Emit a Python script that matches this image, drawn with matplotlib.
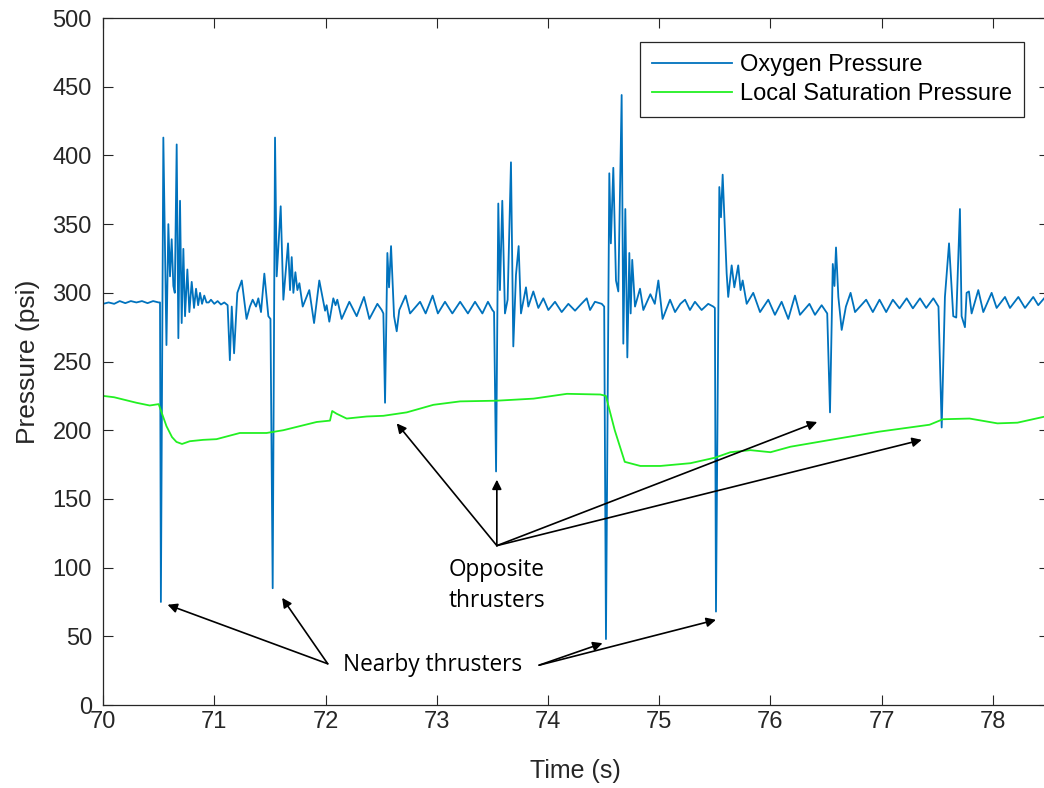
import matplotlib
matplotlib.use('Agg')
import matplotlib.pyplot as plt

# oxygen pressure trace (s, psi)
O2_time = [
    70.00, 70.05, 70.10, 70.15, 70.20, 70.25, 70.30, 70.35, 70.40, 70.45, 70.50, 70.512,
    70.52, 70.542, 70.57, 70.587, 70.602, 70.617, 70.632, 70.645, 70.662, 70.677, 70.692,
    70.707, 70.722, 70.737, 70.758, 70.776, 70.797, 70.818, 70.836, 70.855, 70.872, 70.89,
    70.91, 70.93, 70.95, 70.97, 71.00, 71.03, 71.06, 71.09, 71.12,
    71.14, 71.157, 71.178, 71.207, 71.247, 71.29, 71.32, 71.345, 71.375, 71.396, 71.42,
    71.45, 71.486, 71.505, 71.525,
    71.546, 71.561, 71.597, 71.621, 71.663, 71.681, 71.696, 71.711, 71.729, 71.747, 71.765,
    71.795, 71.854, 71.897, 71.944, 71.996, 72.01, 72.034, 72.07, 72.09, 72.106, 72.145,
    72.214, 72.28, 72.346, 72.394, 72.466, 72.505, 72.52, 72.535,
    72.556, 72.571, 72.589, 72.616, 72.64, 72.663, 72.72, 72.76, 72.85, 72.90, 72.963,
    73.01, 73.074, 73.14, 73.21, 73.28, 73.344, 73.41, 73.46, 73.50, 73.515, 73.533,
    73.553, 73.568, 73.589, 73.613, 73.637, 73.667, 73.688, 73.712, 73.736, 73.757, 73.802,
    73.823, 73.868, 73.913, 73.958, 74.003, 74.063, 74.123, 74.183, 74.243, 74.30, 74.348,
    74.378, 74.422, 74.483, 74.505, 74.521,
    74.551, 74.565, 74.587, 74.611, 74.632, 74.662, 74.677, 74.695, 74.713, 74.731, 74.743,
    74.757, 74.782, 74.827, 74.857, 74.92, 74.96, 74.992, 75.03, 75.097, 75.142, 75.19,
    75.232, 75.276, 75.321, 75.381, 75.44, 75.486, 75.50, 75.51,
    75.54, 75.555, 75.57, 75.606, 75.62, 75.651, 75.675, 75.71, 75.731, 75.75, 75.786,
    75.845, 75.906, 75.98, 76.04, 76.10, 76.16, 76.22, 76.265, 76.35, 76.40, 76.46, 76.51,
    76.535,
    76.56, 76.575, 76.589, 76.61, 76.64, 76.678, 76.72, 76.76, 76.86, 76.92, 76.98, 77.04,
    77.10, 77.16, 77.224, 77.28, 77.344, 77.40, 77.464, 77.51, 77.539,
    77.568, 77.605, 77.643, 77.67, 77.703, 77.718, 77.748, 77.763, 77.784, 77.808, 77.868,
    77.913, 77.988, 78.033, 78.108, 78.153, 78.228, 78.288, 78.362, 78.407, 78.47,
]
O2_psi = [
    292, 293, 292, 294, 292.5, 294, 293, 294, 292.5, 294, 293, 293,
    75, 413, 262, 350, 312, 339, 305, 300, 408, 267, 367,
    278, 332, 283, 317, 286, 308, 289, 303, 291, 300, 292,
    298, 293, 293, 295, 292, 294, 291.5, 293, 291,
    251, 290, 256, 300, 309, 281, 290, 295, 290, 296, 286,
    314, 283, 281, 85,
    413, 312, 363, 295, 336, 302, 326, 300, 315, 302, 307,
    290, 302, 278, 309, 287, 291, 279, 296, 291, 295, 281,
    293.5, 283, 297, 281, 292, 287.5, 285, 220,
    329, 304, 334, 283, 272, 287.5, 298, 285, 293.5, 285, 298,
    285, 293.5, 285, 293.5, 285, 293.5, 285, 293.5, 287.5, 286, 170,
    365, 302, 367, 285, 295, 395, 261, 313, 334, 285, 304,
    290, 301, 289, 296, 287.5, 293.5, 286, 292, 287, 292, 296,
    287.5, 293.5, 292, 290, 48,
    387, 336, 391, 309, 301, 444, 263, 361, 253, 329, 285,
    324, 290, 303, 287.5, 299, 292, 309, 281, 295, 286, 292,
    295, 287.5, 293.5, 287.5, 292, 290, 289, 68,
    377, 355, 386, 314, 297, 320, 304, 320, 302, 309, 292,
    300, 286, 295, 284, 293.5, 281, 298, 284, 292, 284, 291, 285,
    213,
    321, 305, 333, 297, 273, 290, 300, 286, 295, 286, 295, 286,
    295, 288.7, 296, 288.7, 296, 289, 296, 290, 202,
    297, 336, 283, 282, 361, 283, 275, 300, 301, 285, 302,
    286, 300, 289, 297, 289, 297, 289, 297, 291, 297,
]

# local saturation pressure (s, psi)
sat_time = [
    70.00, 70.10, 70.20, 70.30, 70.42, 70.50, 70.57, 70.62, 70.66, 70.71, 70.78, 70.90,
    71.02, 71.23, 71.47, 71.62, 71.92, 72.04, 72.06, 72.10, 72.19, 72.37, 72.52, 72.73,
    72.97, 73.21, 73.54, 73.87, 74.17, 74.47, 74.52, 74.60, 74.69, 74.83, 75.01, 75.28,
    75.50, 75.64, 75.82, 76.00, 76.18, 76.54, 76.98, 77.43, 77.55, 77.79, 78.04, 78.22,
    78.47,
]
sat_psi = [
    225, 224, 222, 220, 218, 219, 203, 195, 191.5, 190, 192, 193,
    193.5, 198, 198, 200, 206, 207, 214, 212, 208.5, 210, 210.5, 213,
    218.5, 221, 221.5, 223, 226.5, 226, 225, 200, 177, 174, 174, 176,
    180, 184, 185.5, 184, 188, 193, 199, 204, 208, 208.5, 205, 205.5,
    210,
]

# (text xy, arrow tips)
nearby_left = (72.02, 30)
nearby_right = (73.92, 29)
nearby_tips_left = [(70.58, 73), (71.61, 78)]
nearby_tips_right = [(74.49, 45), (75.51, 62)]
opp_origin = (73.54, 116)
opp_tips = [(72.64, 205), (73.54, 164), (76.42, 206), (77.36, 193)]

BLUE = '#0072BD'
GREEN = '#22F022'
GREY = '#262626'


def plotPressure():
    fig = plt.figure(figsize=(10.44, 7.88), dpi=100)
    ax = fig.add_axes([0.0987, 0.1053, 0.9057, 0.8718])
    plt.rcParams['font.family'] = ['Liberation Sans', 'DejaVu Sans']

    ax.plot(O2_time, O2_psi, color=BLUE, lw=1.3, label='Oxygen Pressure')
    ax.plot(sat_time, sat_psi, color=GREEN, lw=1.3, label='Local Saturation Pressure')

    ax.set_xlim(70, 78.5)
    ax.set_ylim(0, 500)
    ax.set_xticks(range(70, 79))
    ax.set_yticks(range(0, 501, 50))
    ax.tick_params(direction='in', top=True, right=True, length=7, width=0.8,
                   colors=GREY, labelsize=17, labelcolor=GREY)
    ax.tick_params(axis='y', pad=8)
    ax.tick_params(axis='x', pad=4)
    for sp in ax.spines.values():
        sp.set_color(GREY)
        sp.set_linewidth(0.9)
    for lab in ax.get_xticklabels() + ax.get_yticklabels():
        lab.set_family('Liberation Sans')

    ax.set_xlabel('Time (s)', fontsize=18, color=GREY, family='Liberation Sans', labelpad=19)
    ax.set_ylabel('Pressure (psi)', fontsize=19, color=GREY, family='Liberation Sans', labelpad=9)

    leg = ax.legend(loc='upper right', bbox_to_anchor=(0.974, 0.965), borderaxespad=0,
                    fancybox=False, framealpha=1, edgecolor=GREY, handlelength=3.4,
                    prop={'family': 'Liberation Sans', 'size': 17}, labelspacing=0.3,
                    borderpad=0.5, handletextpad=0.35)
    leg.get_frame().set_linewidth(0.9)

    arw = dict(arrowstyle='-|>', color='black', lw=1.2, mutation_scale=14, shrinkA=0, shrinkB=0)
    for tip in nearby_tips_left:
        ax.annotate('', xy=tip, xytext=nearby_left, arrowprops=arw)
    for tip in nearby_tips_right:
        ax.annotate('', xy=tip, xytext=nearby_right, arrowprops=arw)
    for tip in opp_tips:
        ax.annotate('', xy=tip, xytext=opp_origin, arrowprops=arw)
    ax.text(72.96, 29, 'Nearby thrusters', ha='center', va='center', fontsize=16.3,
            family='Open Sans', color='black')
    ax.text(73.54, 87, 'Opposite\nthrusters', ha='center', va='center', fontsize=16.3,
            family='Open Sans', color='black', linespacing=1.4)

    fig.savefig('out.png', dpi=100)


def main():
    plotPressure()


if __name__ == '__main__':
    main()
